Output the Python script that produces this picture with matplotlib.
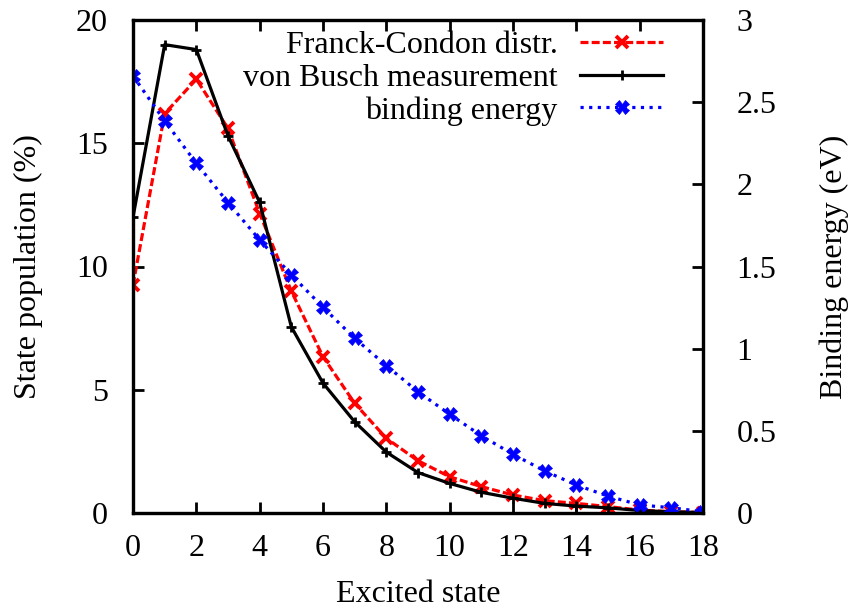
import numpy as np
import matplotlib
matplotlib.use("Agg")
import matplotlib.pyplot as plt
from matplotlib.ticker import FuncFormatter

plt.rcParams['font.family'] = ['Liberation Serif', 'DejaVu Serif']
plt.rcParams['font.size'] = 23

# Data
states = list(range(19))
franck_condon = [9.25, 16.2, 17.6, 15.6, 12.15, 9.0, 6.34, 4.45, 3.03, 2.12,
                 1.47, 1.07, 0.73, 0.5, 0.39, 0.26, 0.12, 0.05, 0.02]
von_busch = [12.0, 19.0, 18.8, 15.3, 12.6, 7.55, 5.27, 3.7, 2.47, 1.64,
             1.2, 0.84, 0.6, 0.39, 0.28, 0.21, 0.1, 0.05, 0.02]
binding_energy = [2.66, 2.386, 2.128, 1.889, 1.662, 1.449, 1.252, 1.063, 0.897, 0.738,
                  0.601, 0.47, 0.357, 0.256, 0.17, 0.103, 0.049, 0.032, 0.008]

fig = plt.figure(figsize=(8.5, 6.09), dpi=100)
ax = fig.add_axes([133/850, 1 - 513/609, 570/850, 493/609])
ax2 = ax.twinx()

l1, = ax.plot(states, franck_condon, color='#ff0000', linestyle=(0, (2.5, 1)), linewidth=2.3,
              marker='x', markersize=8, markeredgewidth=2.8, label='Franck-Condon distr.')
l2, = ax.plot(states, von_busch, color='black', linestyle='-', linewidth=2.3,
              marker='+', markersize=7, markeredgewidth=2, label='von Busch measurement')
l3, = ax2.plot(states, binding_energy, color='#0000ff', linestyle=(0, (1, 1.7)), linewidth=2.3,
               marker='X', markersize=10, markeredgewidth=0.5, label='binding energy')

ax.set_xlim(0, 18)
ax.set_ylim(0, 20)
ax2.set_ylim(0, 3)
ax.set_xticks(range(0, 19, 2))
ax.set_yticks(range(0, 21, 5))
ax2.set_yticks(np.arange(0, 3.01, 0.5))
ax2.yaxis.set_major_formatter(FuncFormatter(lambda v, p: '%g' % v))

ax.tick_params(axis='x', direction='in', length=8, width=2, top=True, pad=15)
ax.tick_params(axis='y', direction='in', length=8, width=2, right=False, pad=18)
ax2.tick_params(axis='y', direction='in', length=8, width=2, pad=24)
for a in (ax, ax2):
    for s in a.spines.values():
        s.set_linewidth(2.3)

ax.set_xlabel('Excited state', labelpad=12)
ax.set_ylabel('State population (%)', labelpad=24)
ax2.set_ylabel('Binding energy (eV)', labelpad=31)

leg = ax2.legend(handles=[l1, l2, l3], loc='upper right', bbox_to_anchor=(0.958, 1.01),
                 frameon=False, markerfirst=False, handlelength=2.6, labelspacing=0.1,
                 borderaxespad=0.1, handletextpad=0.7, numpoints=1)
for t in leg.get_texts():
    t.set_ha('right')
leg._legend_box.align = 'right'

fig.savefig('out.png', dpi=100)
